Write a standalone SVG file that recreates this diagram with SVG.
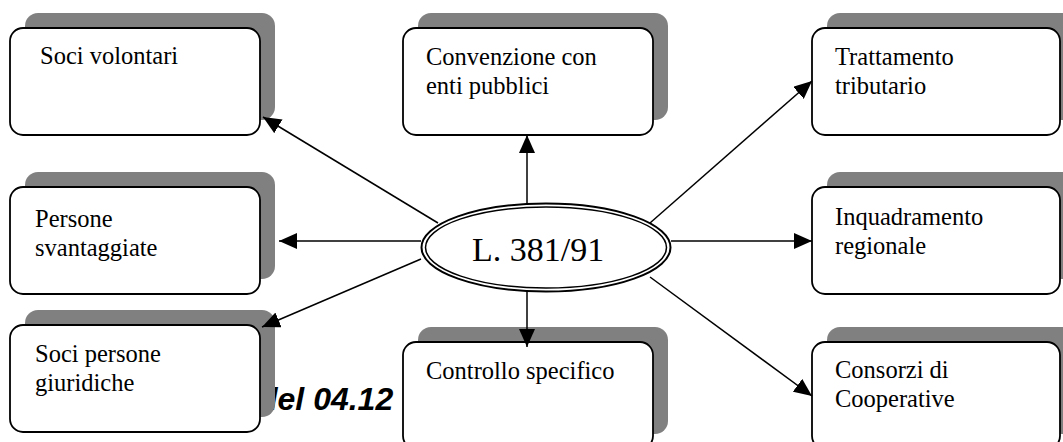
<svg xmlns="http://www.w3.org/2000/svg" width="1063" height="442" viewBox="0 0 1063 442">
<style>
.sh{fill:#808080;stroke:none}
.bx{fill:#fff;stroke:#000;stroke-width:1.8}
.t{font-family:"Liberation Serif","Times New Roman",serif;font-size:24.5px;fill:#000}
.c{stroke:#000;stroke-width:1.5;fill:none;marker-end:url(#ah)}
</style>
<defs>
<marker id="ah" viewBox="0 0 18 16" refX="18" refY="8" markerWidth="18" markerHeight="16" orient="auto" markerUnits="userSpaceOnUse">
<path d="M0,0 L18,8 L0,16 z" fill="#000"/>
</marker>
</defs>
<rect width="1063" height="442" fill="#fff"/>
<text x="258" y="410" font-family="'Liberation Sans',Arial,sans-serif" font-size="32" font-weight="bold" font-style="italic" fill="#000">del 04.12</text>
<g id="n1"><rect class="sh" x="25" y="13" width="250" height="107" rx="13"/><rect class="bx" x="10" y="28" width="250" height="107" rx="13"/><text class="t" x="40" y="64">Soci volontari</text></g>
<g id="n2"><rect class="sh" x="418" y="13" width="250" height="107" rx="13"/><rect class="bx" x="403" y="28" width="250" height="107" rx="13"/><text class="t" x="426" y="65">Convenzione con<tspan x="426" dy="28.5">enti pubblici</tspan></text></g>
<g id="n3"><rect class="sh" x="827" y="13" width="250" height="107" rx="13"/><rect class="bx" x="812" y="28" width="248" height="107" rx="13"/><text class="t" x="835" y="65">Trattamento<tspan x="835" dy="28.5">tributario</tspan></text></g>
<g id="n4"><rect class="sh" x="25" y="172" width="250" height="107" rx="13"/><rect class="bx" x="10" y="187" width="250" height="107" rx="13"/><text class="t" x="35" y="227">Persone<tspan x="35" dy="28.5">svantaggiate</tspan></text></g>
<g id="n5"><rect class="sh" x="827" y="172" width="250" height="107" rx="13"/><rect class="bx" x="812" y="187" width="248" height="107" rx="13"/><text class="t" x="835" y="225">Inquadramento<tspan x="835" dy="28.5">regionale</tspan></text></g>
<g id="n6"><rect class="sh" x="25" y="310" width="250" height="107" rx="13"/><rect class="bx" x="10" y="325" width="250" height="107" rx="13"/><text class="t" x="35" y="362">Soci persone<tspan x="35" dy="28.5">giuridiche</tspan></text></g>
<g id="n7"><rect class="sh" x="418" y="327" width="250" height="107" rx="13"/><rect class="bx" x="403" y="342" width="250" height="107" rx="13"/><text class="t" x="426" y="379">Controllo specifico</text></g>
<g id="n8"><rect class="sh" x="827" y="327" width="250" height="107" rx="13"/><rect class="bx" x="812" y="342" width="248" height="107" rx="13"/><text class="t" x="835" y="378">Consorzi di<tspan x="835" dy="28.5">Cooperative</tspan></text></g>
<g id="connectors">
<line class="c" x1="438" y1="223" x2="263" y2="117"/>
<line class="c" x1="527" y1="204" x2="527" y2="135"/>
<line class="c" x1="650" y1="223" x2="812" y2="81"/>
<line class="c" x1="421" y1="241" x2="279" y2="241"/>
<line class="c" x1="671" y1="241" x2="812" y2="241"/>
<line class="c" x1="421" y1="259" x2="262" y2="327"/>
<line class="c" x1="527" y1="291" x2="527" y2="347"/>
<line class="c" x1="650" y1="277" x2="812" y2="396"/>
</g>
<g id="center">
<ellipse cx="546" cy="247.5" rx="124.5" ry="44" fill="#fff" stroke="#000" stroke-width="2"/>
<ellipse cx="546" cy="247.5" rx="120.5" ry="40.5" fill="none" stroke="#000" stroke-width="1.5"/>
<text x="472" y="261" font-family="'Liberation Serif','Times New Roman',serif" font-size="34" fill="#000">L. 381/91</text>
</g>
</svg>
